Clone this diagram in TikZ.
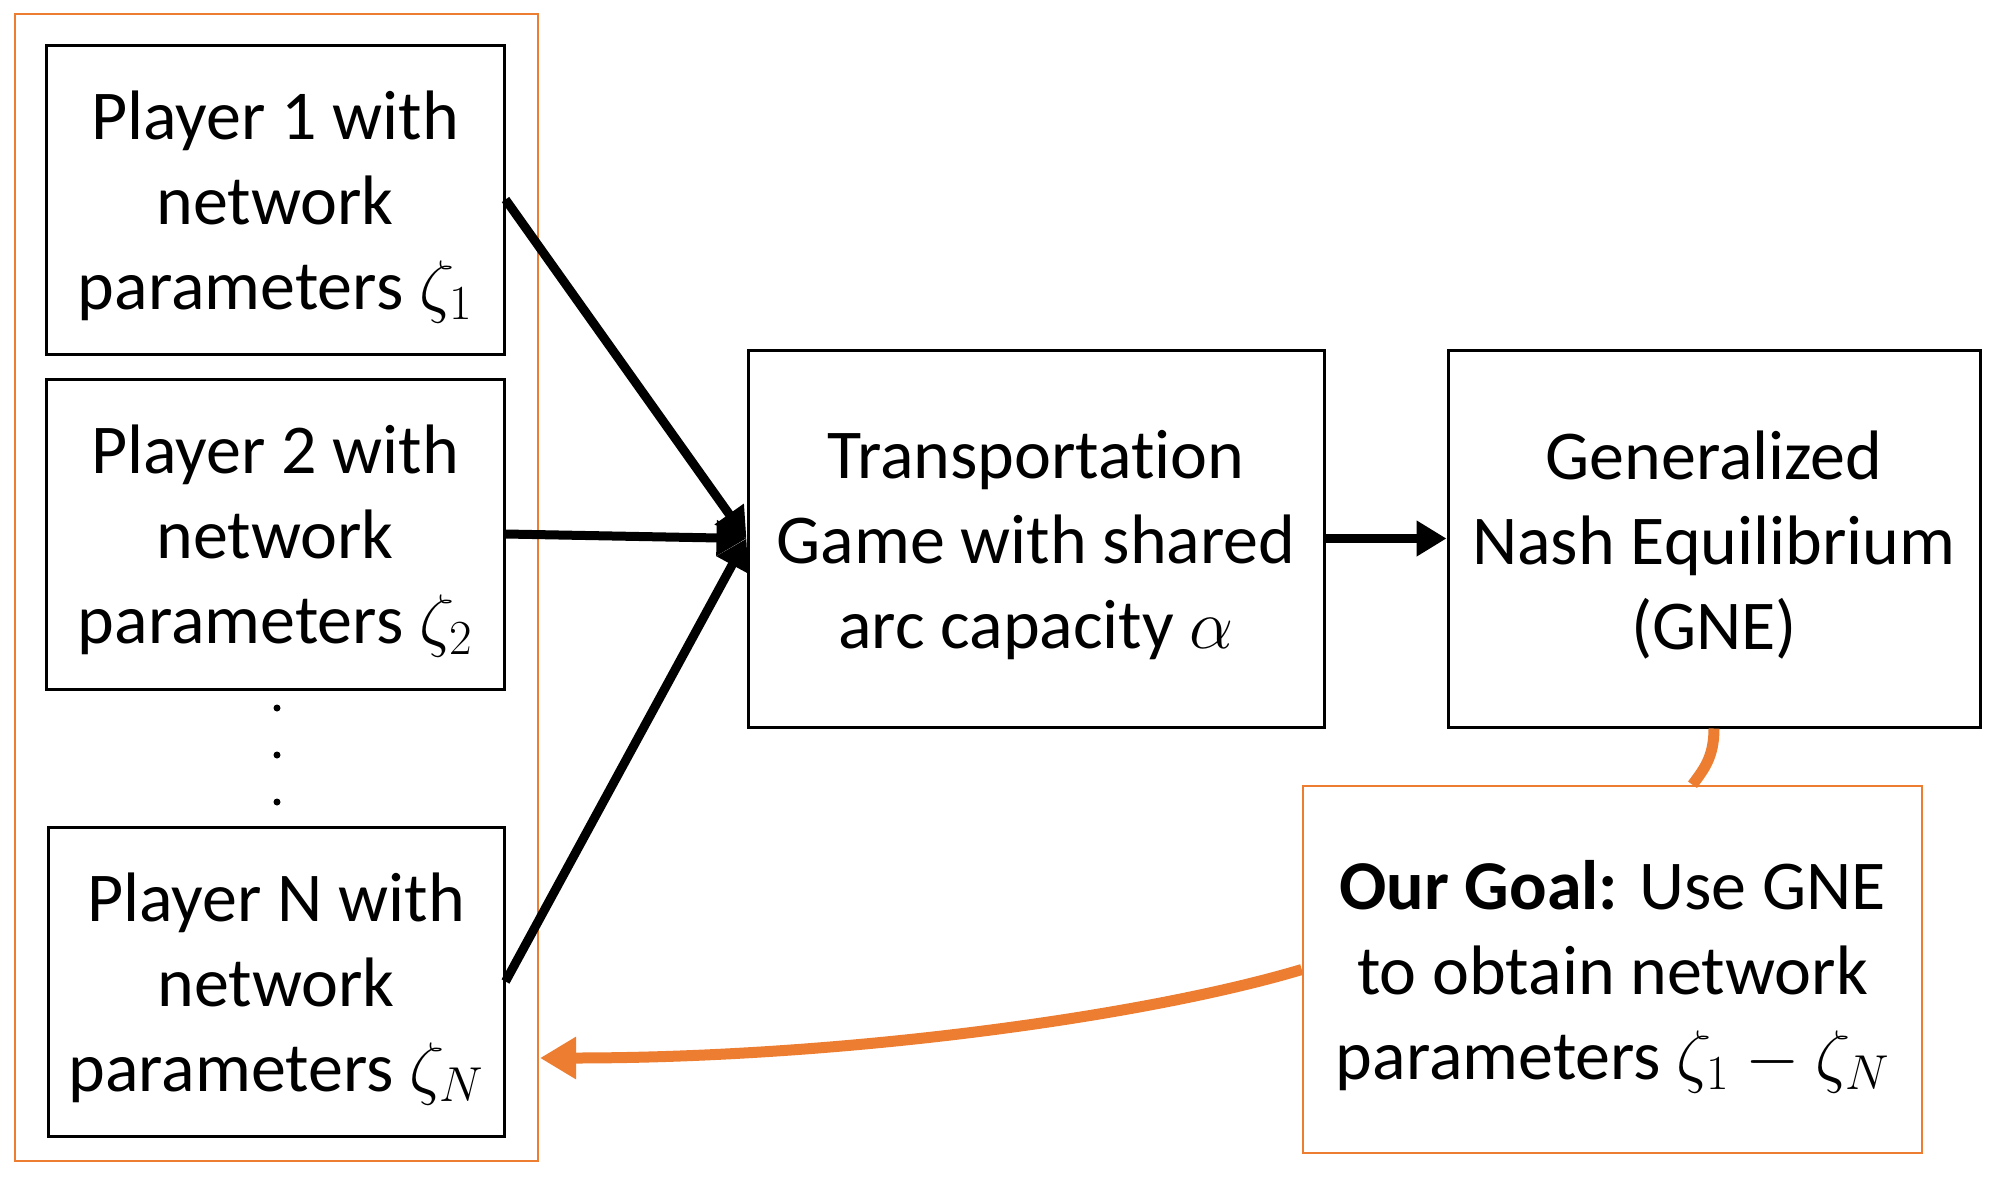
\documentclass[tikz,border=0pt]{standalone}
\usepackage{fix-cm}
\usepackage{fontspec}
\setmainfont{Carlito}[Ligatures=NoCommon]
\usetikzlibrary{arrows.meta,calc}
\definecolor{offorange}{HTML}{ED7D31}
\begin{document}
\begin{tikzpicture}[x=1pt,y=-1pt,
  box/.style={draw=black, line width=3pt, inner sep=0pt},
  obox/.style={draw=offorange, line width=2.5pt, inner sep=0pt},
  txt/.style={inner sep=0pt, align=center, yshift=-7pt,
    font=\fontsize{70}{85}\selectfont},
  blackarrow/.style={line width=9pt, -{Triangle[length=30pt,width=34pt]}},
  orangeline/.style={draw=offorange, line width=11pt},
  dotnode/.style={circle, fill=black, inner sep=0pt, minimum size=7pt}
]
\useasboundingbox (0,0) rectangle (1994,1178);
\fill[white] (0,0) rectangle (1994,1178);

\node[obox, minimum width=523, minimum height=1147] (outer) at (276.5,587.5) {};

\node[box, minimum width=458, minimum height=309] (p1) at (275,199.5) {};
\node[txt] (p1t) at (p1.center) {Player 1 with\\network\\parameters $\zeta_1$};
\node[box, minimum width=458, minimum height=310] (p2) at (275,534) {};
\node[txt] (p2t) at (p2.center) {Player 2 with\\network\\parameters $\zeta_2$};
\node[box, minimum width=456, minimum height=309] (pN) at (276,981.5) {};
\node[txt] (pNt) at (pN.center) {Player N with\\network\\parameters $\zeta_N$};

\node[dotnode] (d1) at (277,708) {};
\node[dotnode] (d2) at (277,755) {};
\node[dotnode] (d3) at (277,802) {};

\node[box, minimum width=576, minimum height=377] (trans) at (1036,538.5) {};
\node[txt] (transt) at (trans.center) {Transportation\\Game with shared\\arc capacity $\alpha$};
\node[box, minimum width=532, minimum height=377] (gne) at (1714,538.5) {};
\node[txt] (gnet) at (gne.center) {Generalized\\Nash Equilibrium\\(GNE)};
\node[obox, minimum width=619, minimum height=367] (goal) at (1612.5,969.5) {};
\node[txt] (goalt) at (goal.center) {\textbf{Our Goal:} Use GNE\\to obtain network\\parameters $\zeta_1-\zeta_N$};

\draw[blackarrow] (p1.east) -- (trans.west);
\draw[blackarrow] (p2.east) -- (trans.west);
\draw[blackarrow] (pN.east) -- (trans.west);
\draw[blackarrow] (trans.east) -- (gne.west);

\coordinate (goaltop) at ($(goal.north)+(80,0)$);
\draw[orangeline] (gne.south) .. controls +(0,30) and +(10,-14) .. (goaltop);

\coordinate (arrowend) at (540,1058);
\draw[orangeline, -{Triangle[length=36pt,width=40pt]}]
  (goal.west) .. controls (1150,1015) and (850,1058) .. (arrowend);
\end{tikzpicture}
\end{document}
